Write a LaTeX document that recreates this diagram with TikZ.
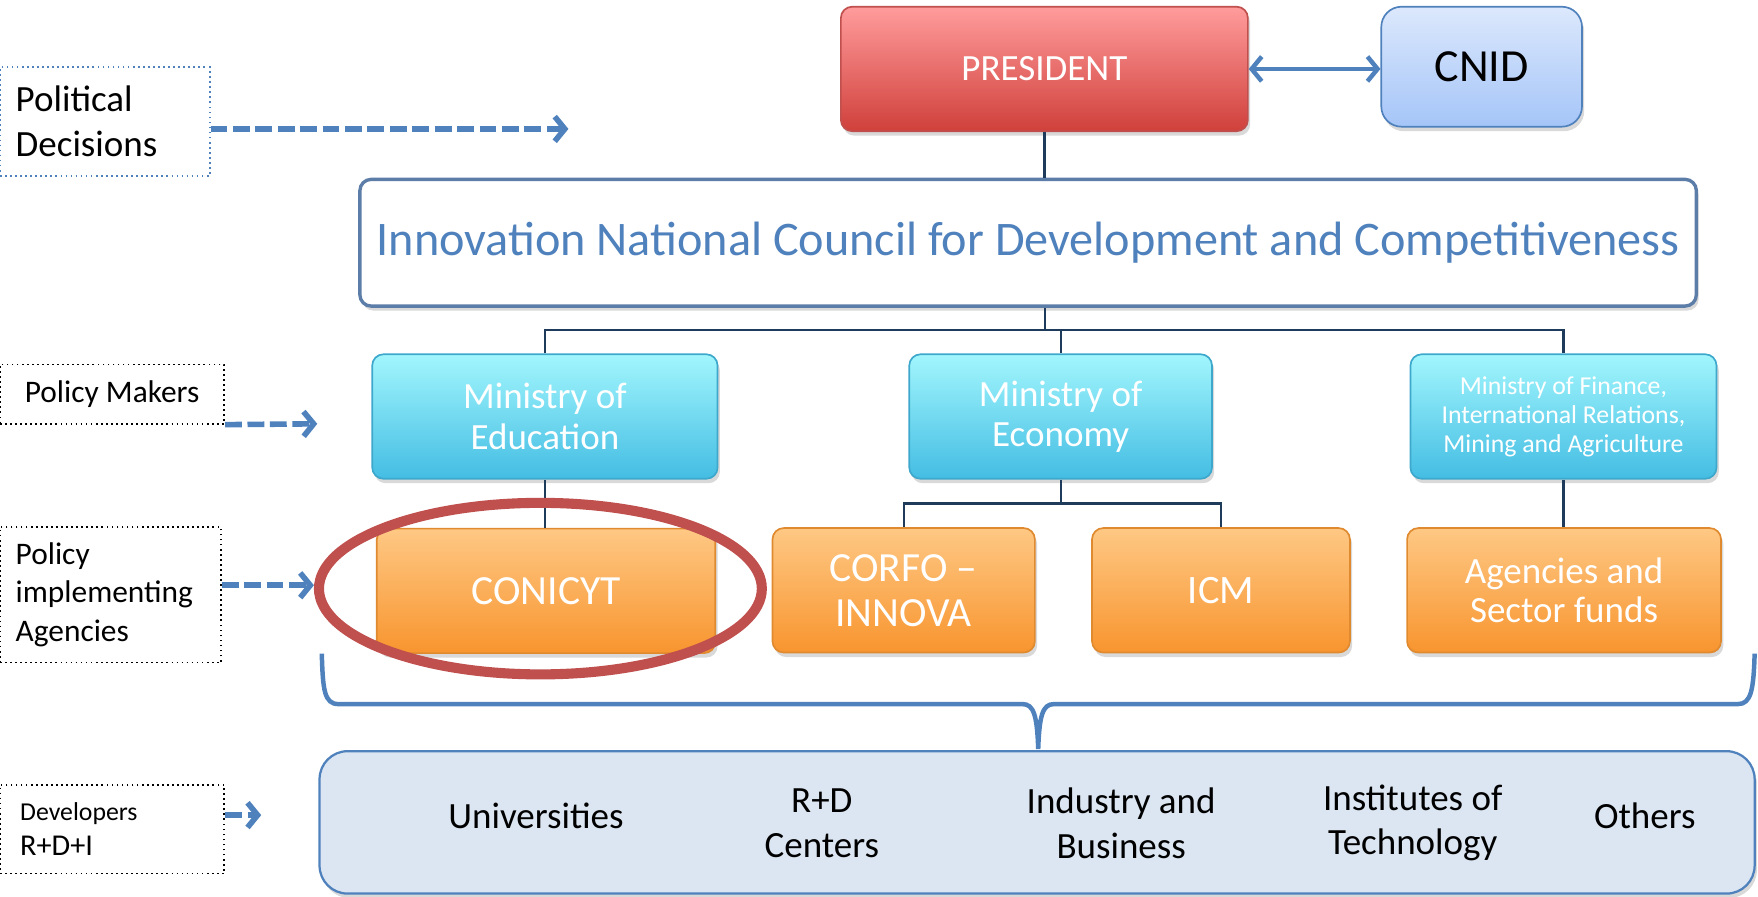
\documentclass[tikz,border=0pt]{standalone}
\usepackage{fontspec}
\setmainfont{Carlito}
\usetikzlibrary{arrows.meta,shadows}
\definecolor{ofblue}{HTML}{4F81BD}
\definecolor{lineblue}{HTML}{1F3B5C}
\definecolor{incline}{HTML}{5B7DA8}
\definecolor{redtop}{HTML}{FF9C9C}
\definecolor{redbot}{HTML}{D0403B}
\definecolor{redline}{HTML}{C0504D}
\definecolor{cyantop}{HTML}{A2F6FD}
\definecolor{cyanbot}{HTML}{44BDE3}
\definecolor{cyanline}{HTML}{3DA8CC}
\definecolor{orgtop}{HTML}{FEC884}
\definecolor{orgbot}{HTML}{F8952F}
\definecolor{orgline}{HTML}{E08A30}
\definecolor{cnidtop}{HTML}{DCE8FC}
\definecolor{cnidbot}{HTML}{A5C5F8}
\definecolor{devfill}{HTML}{DCE6F2}
\begin{document}
\begin{tikzpicture}[x=1pt, y=-1pt,
		box/.style={rounded corners=10pt, line width=1.5pt, align=center, inner sep=0pt,
			drop shadow={opacity=0.3, shadow xshift=2pt, shadow yshift=-4pt}},
		mini/.style={box, draw=cyanline, top color=cyantop, bottom color=cyanbot, text=white,
			minimum height=111pt, font=\fontsize{33}{36}\selectfont},
		agency/.style={box, draw=orgline, top color=orgtop, bottom color=orgbot, text=white,
			minimum height=111pt, font=\fontsize{33}{35}\selectfont},
		tag/.style={draw, line width=1.5pt, dash pattern=on 1.5pt off 3pt, align=left, inner ysep=0pt},
		dasharrow/.style={ofblue, line width=5pt, dash pattern=on 15pt off 5pt,
			-{Straight Barb[length=9pt, width=22pt]}},
		link/.style={lineblue, line width=2pt}]
		% \draw[help lines, step=100] (0,0) grid (1568,800);
		\useasboundingbox (0,0) rectangle (1568,800);

		\node[tag, draw=ofblue, text width=159pt, inner xsep=14pt, minimum height=97pt,
			font=\fontsize{33}{40}\selectfont] (pd) at (93.5,108.5) {Political\\Decisions};
		\node[tag, minimum width=200pt, minimum height=53pt,
			font=\fontsize{28}{34}\selectfont] (pm) at (100,351.5) {Policy Makers};
		\node[tag, text width=169pt, inner xsep=14pt, minimum height=121pt,
			font=\fontsize{28}{34}\selectfont] (pia) at (98.5,530.5) {Policy\\implementing\\Agencies};
		\node[tag, text width=164pt, inner xsep=18pt, minimum height=79pt,
			font=\fontsize{27}{31}\selectfont] (devl) at (100,739.5) {{\fontsize{23}{31}\selectfont Developers}\\R+D+I};

		\coordinate (pdtip) at (507,115);
		\coordinate (pmtip) at (283,378);
		\coordinate (piatip) at (280,522);
		\coordinate (devtip) at (233,727);
		\draw[dasharrow] (pd.east |- pdtip) -- (pdtip);
		\draw[dasharrow] (pm.south east) -- (pmtip);
		\draw[dasharrow] (pia.east |- piatip) -- (piatip);
		\draw[dasharrow] (devl.east |- devtip) -- (devtip);

		\node[box, draw=redline, top color=redtop, bottom color=redbot, text=white, minimum width=363pt,
			minimum height=111pt, font=\fontsize{33}{40}\selectfont] (pres) at (931.5,61.5) {PRESIDENT};
		\node[box, draw=ofblue, top color=cnidtop, bottom color=cnidbot, rounded corners=18pt, minimum width=179pt,
			minimum height=107pt, font=\fontsize{41}{48}\selectfont] (cnid) at (1321.5,59.5) {CNID};
		\draw[ofblue, line width=4pt, {Straight Barb[length=9pt, width=22pt]}-{Straight Barb[length=9pt, width=22pt]}]
			(pres.east) -- (pres.east -| cnid.west);

		\node[box, draw=incline, fill=white, line width=3pt, minimum width=1192pt, minimum height=113pt, text=ofblue,
			font=\fontsize{43}{48}\selectfont] (inc) at (917,216.5) {Innovation National Council for Development and Competitiveness};

		\node[mini, minimum width=308pt] (mined) at (486,371.5) {Ministry of\\Education};
		\node[mini, minimum width=270pt] (minec) at (946,371.5) {Ministry of\\Economy};
		\node[mini, minimum width=273pt, font=\fontsize{23}{26}\selectfont] (minfi) at (1394.5,371.5)
			{Ministry of Finance,\\International Relations,\\Mining and Agriculture};

		\node[agency, minimum width=302pt, font=\fontsize{37}{40}\selectfont] (conicyt) at (487,527) {CONICYT};
		\node[agency, minimum width=234pt, font=\fontsize{37}{40}\selectfont] (corfo) at (806,526.5) {CORFO --\\INNOVA};
		\node[agency, minimum width=230pt, font=\fontsize{36}{40}\selectfont] (icm) at (1089,526.5) {ICM};
		\node[agency, minimum width=280pt] (agen) at (1395,526.5) {Agencies and\\Sector funds};

		\coordinate (bus) at (932,294);
		\coordinate (ecbus) at (946,449);
		\draw[link] (pres.south) -- (pres.south |- inc.north);
		\draw[link] (inc.south -| bus) -- (bus);
		\draw[link] (mined.north) |- (bus) -| (minfi.north);
		\draw[link] (bus -| minec.north) -- (minec.north);
		\draw[link] (mined.south) -- (mined.south |- conicyt.north);
		\draw[link] (minec.south) -- (ecbus);
		\draw[link] (corfo.north) |- (ecbus) -| (icm.north);
		\draw[link] (minfi.south) -- (minfi.south |- agen.north);

		\draw[redline, line width=9pt] (482,525) ellipse [x radius=197.5pt, y radius=76.5pt];

		\draw[ofblue, line width=4pt] (287,583) .. controls (288,615) and (289,628) .. (302,628) -- (912,628)
			.. controls (922,628) and (925,638) .. (926,668) .. controls (927,638) and (930,628) .. (940,628)
			-- (1550,628) .. controls (1562,628) and (1564,615) .. (1565,583);

		\node[draw=ofblue, fill=devfill, rounded corners=25pt, line width=2pt, minimum width=1280pt,
			minimum height=127pt, drop shadow={opacity=0.3, shadow xshift=2pt, shadow yshift=-4pt}] (dev) at (925,733.5) {};
		\node[font=\fontsize{33}{40}\selectfont] (univ) at (478,728) {Universities};
		\node[font=\fontsize{33}{40}\selectfont, align=center] (rd) at (733,734) {R+D\\Centers};
		\node[font=\fontsize{33}{40}\selectfont, align=center] (indu) at (1000,734) {Industry and\\Business};
		\node[font=\fontsize{33}{40}\selectfont, align=center] (inst) at (1260,734) {Institutes of\\Technology};
		\node[font=\fontsize{33}{40}\selectfont] (oth) at (1467,728) {Others};
	\end{tikzpicture}
\end{document}
